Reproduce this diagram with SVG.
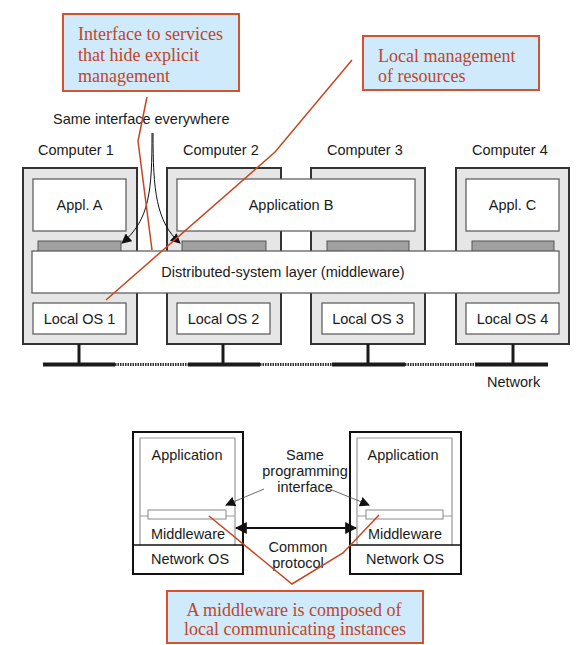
<svg xmlns="http://www.w3.org/2000/svg" width="586" height="645" viewBox="0 0 586 645">
<defs>
<style>
.t{font-family:"Liberation Sans",Arial,sans-serif;font-size:14.5px;fill:#1a1a1a}
.c{text-anchor:middle}
.r{font-family:"Liberation Serif","Times New Roman",serif;font-size:18px;fill:#c0452a}
.call{fill:#cfeafb;stroke:#d5532c;stroke-width:2}
.red{fill:none;stroke:#c8451f;stroke-width:1.5}
.comp{fill:#e6e6e6;stroke:#333;stroke-width:2}
.inb{fill:#fff;stroke:#555;stroke-width:1.2}
.bar{fill:#a0a0a0;stroke:#555;stroke-width:1}
.stem{stroke:#1a1a1a;stroke-width:3}
.net{stroke:#1a1a1a;stroke-width:4}
.dot{stroke:#333;stroke-width:3;stroke-dasharray:1.5 1}
.box{fill:#fff;stroke:#111;stroke-width:2}
.gl{fill:none;stroke:#999;stroke-width:1.2}
</style>
<marker id="ah" viewBox="0 0 10 10" refX="9" refY="5" markerWidth="10" markerHeight="10" markerUnits="userSpaceOnUse" orient="auto"><path d="M0,0 L10,5 L0,10 z" fill="#111"/></marker>
<marker id="ah2" viewBox="0 0 10 10" refX="9" refY="5" markerWidth="12" markerHeight="12" markerUnits="userSpaceOnUse" orient="auto-start-reverse"><path d="M0,0 L10,5 L0,10 z" fill="#111"/></marker>
</defs>

<g id="computer1">
<text class="t" x="38" y="155">Computer 1</text>
<rect class="comp" x="23" y="168" width="114" height="176"/>
<rect class="inb" x="33" y="179" width="93" height="52"/>
<text class="t c" x="79.5" y="210">Appl. A</text>
<rect class="bar" x="38" y="241" width="83" height="11"/>
<rect class="inb" x="33" y="303" width="93" height="31"/>
<text class="t c" x="79.5" y="324">Local OS 1</text>
</g>
<g id="computer2">
<text class="t" x="183" y="155">Computer 2</text>
<rect class="comp" x="167" y="168" width="114" height="176"/>
<rect class="bar" x="182" y="241" width="84" height="11"/>
<rect class="inb" x="177" y="303" width="93" height="31"/>
<text class="t c" x="223.5" y="324">Local OS 2</text>
</g>
<g id="computer3">
<text class="t" x="327" y="155">Computer 3</text>
<rect class="comp" x="311" y="168" width="114" height="176"/>
<rect class="bar" x="327" y="241" width="82" height="11"/>
<rect class="inb" x="322" y="303" width="92" height="31"/>
<text class="t c" x="368" y="324">Local OS 3</text>
</g>
<g id="computer4">
<text class="t" x="472" y="155">Computer 4</text>
<rect class="comp" x="456" y="168" width="113" height="176"/>
<rect class="inb" x="466" y="179" width="93" height="52"/>
<text class="t c" x="512.5" y="210">Appl. C</text>
<rect class="bar" x="472" y="241" width="82" height="11"/>
<rect class="inb" x="466" y="303" width="93" height="31"/>
<text class="t c" x="512.5" y="324">Local OS 4</text>
</g>
<g id="applicationB">
<rect class="inb" x="177" y="179" width="238" height="52"/>
<text class="t c" x="291" y="210">Application B</text>
</g>
<g id="middleware-layer">
<rect class="inb" x="32" y="251" width="527" height="42"/>
<text class="t c" x="283" y="277">Distributed-system layer (middleware)</text>
</g>
<g id="network">
<line class="stem" x1="79" y1="344" x2="79" y2="364"/>
<line class="stem" x1="223" y1="344" x2="223" y2="364"/>
<line class="stem" x1="368" y1="344" x2="368" y2="364"/>
<line class="stem" x1="513" y1="344" x2="513" y2="364"/>
<line class="net" x1="43" y1="364.5" x2="115" y2="364.5"/>
<line class="dot" x1="115" y1="364.5" x2="188" y2="364.5"/>
<line class="net" x1="188" y1="364.5" x2="260" y2="364.5"/>
<line class="dot" x1="260" y1="364.5" x2="332" y2="364.5"/>
<line class="net" x1="332" y1="364.5" x2="405" y2="364.5"/>
<line class="dot" x1="405" y1="364.5" x2="475" y2="364.5"/>
<line class="net" x1="475" y1="364.5" x2="548" y2="364.5"/>
<text class="t" x="487" y="387">Network</text>
</g>
<g id="label-same-interface">
<text class="t" x="53" y="124">Same interface everywhere</text>
</g>
<g id="callout1">
<rect class="call" x="63" y="14" width="176" height="77"/>
<text class="r" x="78" y="40">Interface to services</text>
<text class="r" x="78" y="61">that hide explicit</text>
<text class="r" x="78" y="82">management</text>
</g>
<g id="callout2">
<rect class="call" x="363" y="36" width="176" height="54"/>
<text class="r" x="378" y="62">Local management</text>
<text class="r" x="378" y="82">of resources</text>
</g>

<g id="host-left">
<rect class="box" x="133" y="432" width="110" height="142"/>
<path class="gl" d="M140,545 V438 H235 V545"/>
<line class="gl" x1="140" y1="516" x2="235" y2="516"/>
<rect x="148" y="510" width="78" height="9" fill="#fff" stroke="#888" stroke-width="1"/>
<line x1="133" y1="545" x2="243" y2="545" stroke="#111" stroke-width="1.5"/>
<text class="t c" x="187" y="460">Application</text>
<text class="t c" x="188" y="539">Middleware</text>
<text class="t c" x="190" y="564">Network OS</text>
</g>
<g id="host-right">
<rect class="box" x="350" y="432" width="111" height="142"/>
<path class="gl" d="M357,545 V438 H452 V545"/>
<line class="gl" x1="357" y1="516" x2="452" y2="516"/>
<rect x="366" y="510" width="77" height="9" fill="#fff" stroke="#888" stroke-width="1"/>
<line x1="350" y1="545" x2="461" y2="545" stroke="#111" stroke-width="1.5"/>
<text class="t c" x="403" y="460">Application</text>
<text class="t c" x="405" y="539">Middleware</text>
<text class="t c" x="405" y="564">Network OS</text>
</g>
<g id="label-programming">
<text class="t c" x="305" y="460">Same</text>
<text class="t c" x="305" y="476">programming</text>
<text class="t c" x="305" y="492">interface</text>
</g>
<g id="label-protocol">
<text class="t c" x="298" y="552">Common</text>
<text class="t c" x="298" y="568">protocol</text>
</g>
<g id="callout3">
<rect class="call" x="167" y="591" width="256" height="52"/>
<text class="r c" x="294" y="616">A middleware is composed of</text>
<text class="r c" x="295" y="635">local communicating instances</text>
</g>

<g id="connectors">
<path d="M152,133 C152,190 150,220 122,243" fill="none" stroke="#111" stroke-width="1" marker-end="url(#ah)"/>
<path d="M153,133 C153,190 156,222 180,243" fill="none" stroke="#111" stroke-width="1" marker-end="url(#ah)"/>
<polyline class="red" points="147,97 138,141 152,250"/>
<polyline class="red" points="352,60 275,152 106,300"/>
<line x1="264" y1="489" x2="226" y2="505" stroke="#444" stroke-width="0.8" marker-end="url(#ah)"/>
<line x1="327" y1="488" x2="369" y2="505" stroke="#444" stroke-width="0.8" marker-end="url(#ah)"/>
<line x1="236" y1="528" x2="356" y2="528" stroke="#111" stroke-width="2.2" marker-start="url(#ah2)" marker-end="url(#ah2)"/>
<polyline class="red" points="209,516 292,584 343,553 379,515"/>
</g>
</svg>
